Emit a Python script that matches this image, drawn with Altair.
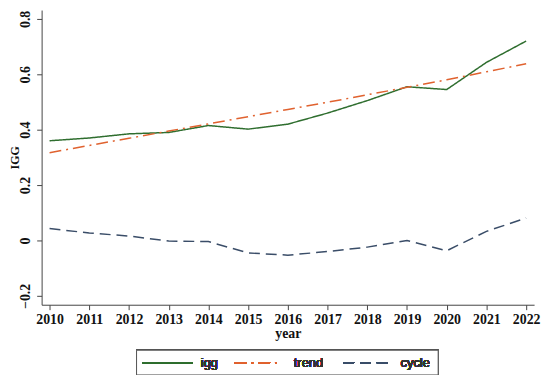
import altair as alt
import pandas as pd

years = list(range(2010, 2023))
igg = [0.360, 0.370, 0.385, 0.390, 0.415, 0.402, 0.420, 0.460, 0.505, 0.555, 0.545, 0.643, 0.720]
trend = [0.317, 0.343, 0.369, 0.395, 0.421, 0.447, 0.473, 0.499, 0.526, 0.553, 0.580, 0.609, 0.638]
cycle = [0.043, 0.027, 0.016, -0.002, -0.004, -0.045, -0.053, -0.040, -0.024, 0.000, -0.037, 0.033, 0.081]

series_names = ["igg", "trend", "cycle"]
series_colors = ["#2f6e2f", "#e0622f", "#3a4d68"]
series_dash = [[1, 0], [12, 5, 2, 5], [11, 6]]

rows = []
for name, vals in zip(series_names, [igg, trend, cycle]):
    for y, v in zip(years, vals):
        rows.append({"year": y, "value": v, "series": name})
df = pd.DataFrame(rows)

serif = "Liberation Serif"

lines = alt.Chart(df).mark_line(strokeWidth=1.5).encode(
    x=alt.X("year:Q",
            scale=alt.Scale(domain=[2009.8, 2022.2], nice=False, zero=False),
            axis=alt.Axis(values=years, format="d", title="year", grid=False,
                          labelFont=serif, labelFontWeight="bold", labelFontSize=14,
                          labelColor="#111", titleFont=serif, titleFontWeight="bold",
                          titleFontSize=14, titleColor="#111", titlePadding=0,
                          tickSize=5, labelPadding=3, domainColor="#444",
                          tickColor="#444", labelFlush=False)),
    y=alt.Y("value:Q",
            scale=alt.Scale(domain=[-0.232, 0.832], nice=False, zero=False),
            axis=alt.Axis(values=[-0.2, 0, 0.2, 0.4, 0.6, 0.8], title="IGG", grid=False,
                          labelExpr="datum.value == 0 ? '0' : format(datum.value, '.1f')",
                          labelAngle=270, labelAlign="center", labelBaseline="bottom",
                          labelFont=serif, labelFontWeight="bold", labelFontSize=14,
                          labelColor="#111", titleFont=serif, titleFontWeight="bold",
                          titleFontSize=12, titleColor="#111", titleX=-20,
                          tickSize=5, labelPadding=4, domainColor="#444",
                          tickColor="#444", labelFlush=False)),
    color=alt.Color("series:N",
                    scale=alt.Scale(domain=series_names, range=series_colors),
                    legend=None),
    strokeDash=alt.StrokeDash("series:N",
                              scale=alt.Scale(domain=series_names, range=series_dash),
                              legend=None),
)

# manual legend box (positions in pixels relative to plot area)
box = alt.Chart(df).mark_rect(fill="white", stroke="#555", strokeWidth=1).encode(
    x=alt.value(96), x2=alt.value(401), y=alt.value(344), y2=alt.value(369)
)

legend_line_x = [(102, 153), (195, 241), (305, 354)]
legend_text_x = [161, 255, 363]
legend_y = 356.5

legend_layers = [box]
for name, col, dash, (x1, x2), tx in zip(series_names, series_colors, series_dash,
                                          legend_line_x, legend_text_x):
    legend_layers.append(
        alt.Chart(df).mark_rule(color=col, strokeDash=dash, strokeWidth=1.2).encode(
            x=alt.value(x1), x2=alt.value(x2), y=alt.value(legend_y)
        )
    )
    legend_layers.append(
        alt.Chart(df).mark_text(align="left", baseline="middle", font="Liberation Sans",
                                fontSize=13, fontWeight="normal", color="#333").encode(
            x=alt.value(tx), y=alt.value(legend_y), text=alt.value(name)
        )
    )

chart = alt.layer(lines, *legend_layers).properties(
    width=498, height=298,
    autosize=alt.AutoSizeParams(type="none"),
    padding={"left": 34, "top": 0, "right": 8, "bottom": 69},
).configure_view(stroke=None)

chart.save("out.html", embed_options={"renderer": "svg", "actions": False})
